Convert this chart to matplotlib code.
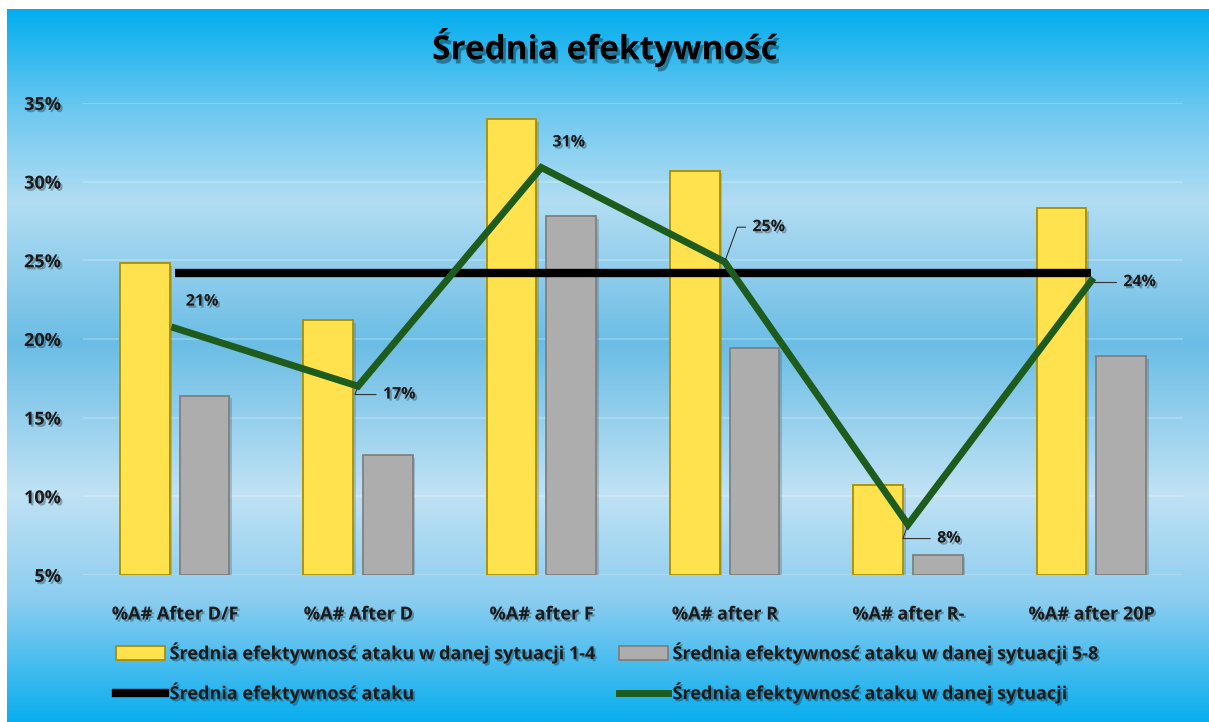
import numpy as np
import matplotlib
matplotlib.use("Agg")
import matplotlib.pyplot as plt
from matplotlib.colors import LinearSegmentedColormap
import matplotlib.patheffects as pe
from matplotlib.patches import Patch
from matplotlib.lines import Line2D

categories = ["%A# After D/F", "%A# After D", "%A# after F", "%A# after R", "%A# after R-", "%A# after 20P"]
sit_1_4 = [0.248, 0.212, 0.340, 0.307, 0.107, 0.283]
sit_5_8 = [0.164, 0.126, 0.278, 0.194, 0.063, 0.189]
avg_all = 0.242
avg_sit = [0.207, 0.170, 0.309, 0.249, 0.082, 0.237]
yticks = [0.05, 0.10, 0.15, 0.20, 0.25, 0.30, 0.35]

title = "Średnia efektywność"
leg_labels = ["Średnia efektywnosć ataku w danej sytuacji 1-4",
              "Średnia efektywnosć ataku w danej sytuacji 5-8",
              "Średnia efektywnosć ataku",
              "Średnia efektywnosć ataku w danej sytuacji"]

plt.rcParams['font.family'] = ['Open Sans', 'DejaVu Sans']

W, H = 1209, 722
fig = plt.figure(figsize=(W / 100, H / 100), dpi=100)
fig.patch.set_facecolor("white")

# gradient background
bg = fig.add_axes([7 / W, 0, 1 - 7 / W, 1 - 9 / H])
bg.set_axis_off()
stops = [(0.0, "#02AEEF"), (0.14, "#6CC8F0"), (0.27, "#B2DDF3"), (0.47, "#6BBDE5"),
         (0.68, "#C0E2F4"), (0.83, "#8CCDF0"), (1.0, "#0AAEEE")]
cmap = LinearSegmentedColormap.from_list("bgc", stops)
grad = np.linspace(0, 1, 512).reshape(-1, 1)
bg.imshow(grad, aspect="auto", cmap=cmap, extent=[0, 1, 1, 0])
bg.set_xlim(0, 1)
bg.set_ylim(1, 0)

ax = fig.add_axes([83 / W, (H - 575) / H, 1100 / W, 472 / H])
ax.set_facecolor("none")
for s in ax.spines.values():
    s.set_visible(False)

x = np.arange(len(categories))
bw = 0.27
off = 0.163
shadow = [pe.SimplePatchShadow(offset=(2, -2), alpha=0.22), pe.Normal()]
ax.bar(x - off, np.array(sit_1_4) - 0.05, bw, bottom=0.05, color="#FFE24D",
       edgecolor="#A89000", linewidth=1.3, zorder=2, path_effects=shadow)
ax.bar(x + off, np.array(sit_5_8) - 0.05, bw, bottom=0.05, color="#ADADAD",
       edgecolor="#808080", linewidth=1.3, zorder=2, path_effects=shadow)

ax.plot([x[0], x[-1]], [avg_all, avg_all], color="black", lw=6, zorder=3,
        solid_capstyle="butt")
ax.plot(x, avg_sit, color="#1D5C1D", lw=5, zorder=4, solid_joinstyle="miter")

ax.set_xlim(-0.5, len(categories) - 0.5)
ax.set_ylim(0.05, 0.35)
ax.set_yticks(yticks)
ax.set_yticklabels([f"{int(round(v * 100))}%" for v in yticks])
ax.yaxis.grid(True, color="white", alpha=0.25, lw=1.2)
ax.set_axisbelow(True)
ax.tick_params(axis="y", length=0, pad=16, labelsize=13)
ax.tick_params(axis="x", length=0, pad=22, labelsize=13)
ax.set_xticks(x)
ax.set_xticklabels(categories)
txt_shadow = [pe.withSimplePatchShadow(offset=(1.5, -1.5), alpha=0.3)]
for lab in ax.get_xticklabels() + ax.get_yticklabels():
    lab.set_fontweight("bold")
    lab.set_color("#1a1a1a")
    lab.set_path_effects(txt_shadow)

# data labels (offsets in points, left edge of label)
lab_off = [(8, 19), (18, -6), (8, 18), (20, 25), (21, -10), (23, -1)]
leader = [False, True, False, True, True, True]
for i, v in enumerate(avg_sit):
    dx, dy = lab_off[i]
    kw = {}
    if leader[i]:
        kw = dict(arrowprops=dict(arrowstyle="-", color="#333333", lw=0.8,
                                  connectionstyle="angle,angleA=0,angleB=70,rad=0",
                                  shrinkA=3, shrinkB=2))
    ax.annotate(f"{int(round(v * 100))}%", (x[i], v), xytext=(dx, dy),
                textcoords="offset points", fontsize=11.5, fontweight="bold",
                ha="left", va="center", color="#1a1a1a", zorder=6,
                path_effects=txt_shadow, **kw)

fig.text(605 / W, 1 - 48 / H, title, ha="center", va="center", fontsize=24,
         fontweight="bold", color="black",
         path_effects=[pe.withSimplePatchShadow(offset=(2, -3), alpha=0.35)])

# legend
handles = [Patch(facecolor="#FFE24D", edgecolor="#A89000", lw=1.3),
           Patch(facecolor="#ADADAD", edgecolor="#808080", lw=1.3),
           Line2D([], [], color="black", lw=6),
           Line2D([], [], color="#1D5C1D", lw=5)]
order = [0, 2, 1, 3]
leg = fig.legend([handles[i] for i in order], [leg_labels[i] for i in order],
                 ncol=2, loc="upper left", bbox_to_anchor=(100 / W, 1 - 626 / H),
                 frameon=False, handlelength=2.7, handleheight=0.8,
                 handletextpad=0.25, columnspacing=1.5, labelspacing=1.05,
                 prop=dict(weight="bold", size=13))
for t in leg.get_texts():
    t.set_color("#1a1a1a")
    t.set_path_effects(txt_shadow)

fig.savefig("out.png", dpi=100)
